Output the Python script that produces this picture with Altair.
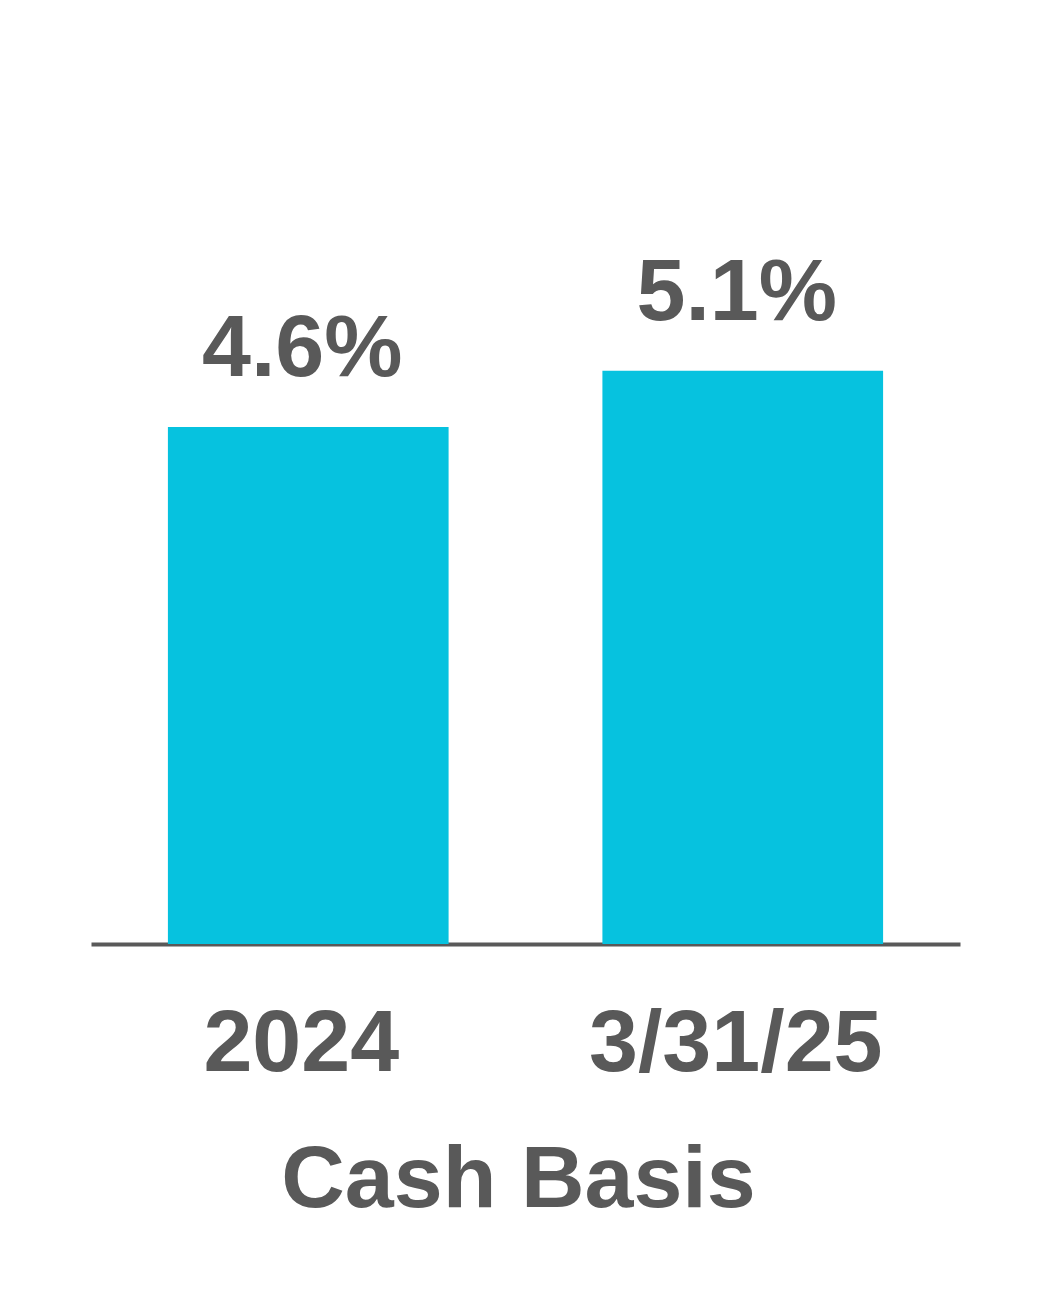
import altair as alt
import pandas as pd

categories = ["2024", "3/31/25"]
values = [4.6, 5.1]
labels = ["4.6%", "5.1%"]
axis_title = "Cash Basis"

df = pd.DataFrame({"period": categories, "value": values, "label": labels})

GRAY = "#595959"
CYAN = "#06C2DF"
FONT = "Liberation Sans"

x = alt.X(
    "period:N",
    sort=categories,
    scale=alt.Scale(paddingInner=0.354, paddingOuter=0.177),
    axis=alt.Axis(
        title=axis_title,
        labelAngle=0,
        labelFont=FONT,
        labelFontSize=88,
        labelFontWeight="bold",
        labelColor=GRAY,
        labelPadding=56,
        labelOffset=-7,
        labelLimit=0,
        ticks=False,
        tickSize=0,
        domainColor=GRAY,
        domainWidth=4,
        titleFont=FONT,
        titleFontSize=88,
        titleFontWeight="bold",
        titleColor=GRAY,
        titlePadding=48,
        titleX=427,
        titleLimit=0,
    ),
)
y = alt.Y("value:Q", scale=alt.Scale(domain=[0, 7.509], nice=False), axis=None)

bars = alt.Chart(df).mark_bar(color=CYAN).encode(x=x, y=y)
text = alt.Chart(df).mark_text(
    font=FONT, fontSize=88, fontWeight="bold", color=GRAY,
    baseline="alphabetic", dy=-51, dx=-6,
).encode(x=alt.X("period:N", sort=categories), y=y, text="label:N")

chart = (
    alt.layer(bars, text)
    .properties(
        width=869,
        height=844,
        background="white",
        autosize=alt.AutoSizeParams(type="none"),
        padding={"left": 83, "top": 92, "right": 40, "bottom": 350},
    )
    .configure_view(strokeWidth=0, stroke=None)
)

chart.save("out.html", embed_options={"renderer": "svg", "actions": False})
